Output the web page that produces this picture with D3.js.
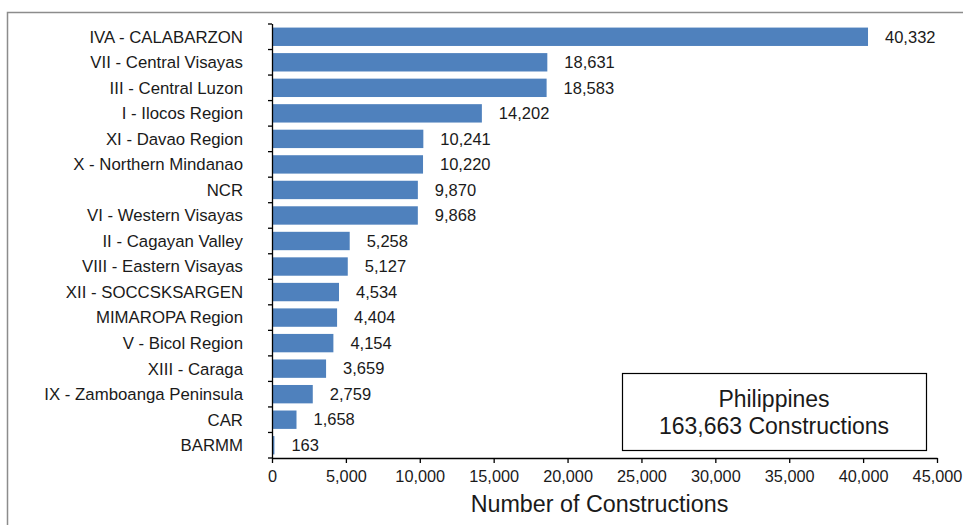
<!DOCTYPE html>
<html>
<head>
<meta charset="utf-8">
<script src="https://cdn.jsdelivr.net/npm/d3@7"></script>
<style>
  body { margin: 0; background: #fff; }
  text { font-family: "Liberation Sans", Arial, sans-serif; fill: #1a1a1a; }
</style>
</head>
<body>
<script>
// data
var regions = [
    'IVA - CALABARZON', 'VII - Central Visayas', 'III - Central Luzon', 'I - Ilocos Region',
    'XI - Davao Region', 'X - Northern Mindanao', 'NCR', 'VI - Western Visayas',
    'II - Cagayan Valley', 'VIII - Eastern Visayas', 'XII - SOCCSKSARGEN', 'MIMAROPA Region',
    'V - Bicol Region', 'XIII - Caraga', 'IX - Zamboanga Peninsula', 'CAR', 'BARMM'
];
var counts = [40332, 18631, 18583, 14202, 10241, 10220, 9870, 9868,
              5258, 5127, 4534, 4404, 4154, 3659, 2759, 1658, 163];
var x_ticks = [0, 5000, 10000, 15000, 20000, 25000, 30000, 35000, 40000, 45000];
var axis_title = 'Number of Constructions';
var box_lines = ['Philippines', '163,663 Constructions'];

//layout
var svg_width = 963;
var svg_height = 525;
var plot_left = 272;
var plot_right = 937;
var plot_top = 24;
var plot_bottom = 458;

var svg = d3.select('body').append('svg')
    .attr('width', svg_width)
    .attr('height', svg_height);

//outer frame
svg.append('rect')
    .attr('x', 7.5).attr('y', 12.5)
    .attr('width', 970).attr('height', 530)
    .attr('fill', 'none')
    .attr('stroke', '#8c8c8c')
    .attr('stroke-width', 1.5);

//scales
var scale_x = d3.scaleLinear()
    .domain([0, 45000])
    .range([plot_left, plot_right]);
var scale_y = d3.scaleBand()
    .domain(regions)
    .range([plot_top, plot_bottom])
    .paddingInner(0.28)
    .paddingOuter(0.14);

//bars
svg.append('g').selectAll('rect')
    .data(regions)
    .enter().append('rect')
    .attr('x', plot_left)
    .attr('y', function(d) { return scale_y(d); })
    .attr('width', function(d, i) { return scale_x(counts[i]) - plot_left; })
    .attr('height', scale_y.bandwidth())
    .attr('fill', '#4f81bd');

//value labels
svg.append('g').selectAll('text')
    .data(regions)
    .enter().append('text')
    .attr('x', function(d, i) { return scale_x(counts[i]) + 17; })
    .attr('y', function(d) { return scale_y(d) + scale_y.bandwidth() / 2; })
    .attr('dy', '0.35em')
    .style('font-size', '16.5px')
    .text(function(d, i) { return d3.format(',')(counts[i]); });

//y axis: ticks at band boundaries
var y_axis = svg.append('g');
y_axis.append('line')
    .attr('x1', plot_left + 0.5).attr('x2', plot_left + 0.5)
    .attr('y1', plot_top).attr('y2', plot_bottom)
    .attr('stroke', '#000').attr('stroke-width', 1.3);
var step = (plot_bottom - plot_top) / regions.length;
y_axis.selectAll('.ytick')
    .data(d3.range(regions.length + 1))
    .enter().append('line')
    .attr('x1', plot_left - 4).attr('x2', plot_left)
    .attr('y1', function(i) { return plot_top + i * step; })
    .attr('y2', function(i) { return plot_top + i * step; })
    .attr('stroke', '#000').attr('stroke-width', 1.3);
y_axis.selectAll('.ylab')
    .data(regions)
    .enter().append('text')
    .attr('x', 243)
    .attr('y', function(d) { return scale_y(d) + scale_y.bandwidth() / 2; })
    .attr('dy', '0.35em')
    .attr('text-anchor', 'end')
    .style('font-size', '16.8px')
    .text(function(d) { return d; });

//x axis
var axis_x = d3.axisBottom(scale_x)
    .tickValues(x_ticks)
    .tickFormat(d3.format(','))
    .tickSize(5)
    .tickSizeOuter(0);
var gx = svg.append('g')
    .attr('transform', 'translate(0,' + plot_bottom + ')')
    .call(axis_x);
gx.select('.domain').attr('stroke', '#000').attr('stroke-width', 1.3);
gx.selectAll('.tick line').attr('stroke', '#000').attr('stroke-width', 1.3);
gx.selectAll('.tick text')
    .attr('y', 12)
    .style('font-size', '16.3px')
    .style('font-family', '"Liberation Sans", Arial, sans-serif')
    .attr('fill', '#1a1a1a');

svg.append('text')
    .attr('x', (plot_left + plot_right) / 2 - 5)
    .attr('y', 512)
    .attr('text-anchor', 'middle')
    .style('font-size', '23.3px')
    .text(axis_title);

//summary box
var box = svg.append('g');
box.append('rect')
    .attr('x', 622.5).attr('y', 373.5)
    .attr('width', 304).attr('height', 77)
    .attr('fill', '#fff')
    .attr('stroke', '#000').attr('stroke-width', 1.2);
box.selectAll('text')
    .data(box_lines)
    .enter().append('text')
    .attr('x', 774)
    .attr('y', function(d, i) { return 407 + i * 27; })
    .attr('text-anchor', 'middle')
    .style('font-size', '23px')
    .text(function(d) { return d; });
</script>
</body>
</html>
